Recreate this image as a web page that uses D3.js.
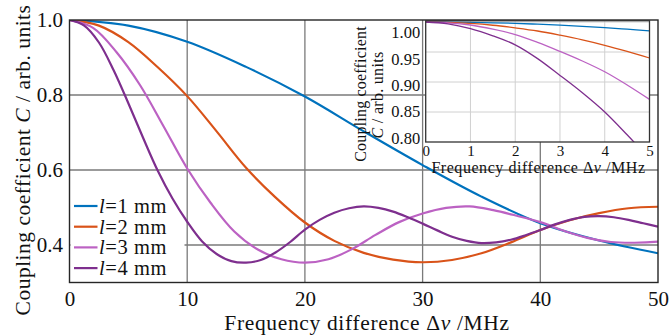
<!DOCTYPE html>
<html>
<head>
<meta charset="utf-8">
<script src="https://cdn.jsdelivr.net/npm/d3@7"></script>
<style>
  body { margin: 0; background: #fff; }
</style>
</head>
<body>
<svg id="chart" width="670" height="336" font-family="'Liberation Serif', 'DejaVu Serif', serif"></svg>
<script>
const FONT = "'Liberation Serif', 'DejaVu Serif', serif";

// series names (l = fibre length)
const seriesNames = ["1", "2", "3", "4"];
const colors = ["#0072bd", "#d95319", "#bc62c3", "#7e2f8e"];

// main plot, frequency difference (MHz) -> coupling coefficient
const x1 = [0, 5, 10, 15, 20, 25, 30, 35, 40, 45, 50];
const c1 = [1.000, 0.985, 0.942, 0.875, 0.796, 0.703, 0.613, 0.529, 0.458, 0.412, 0.378];

const x2 = [0, 2.5, 5, 7.5, 10, 12.5, 15, 17.5, 20, 22.5, 25, 27.5, 30, 32.5, 35, 37.5, 40, 42.5, 45, 47.5, 50];
const c2 = [1.000, 0.985, 0.941, 0.874, 0.797, 0.703, 0.606, 0.527, 0.460, 0.411, 0.379, 0.361, 0.354, 0.360, 0.378, 0.407, 0.440, 0.466, 0.485, 0.498, 0.502];

const x3 = [0, 2, 4, 6, 8, 10, 12, 14, 16, 18, 20, 22, 24, 26, 28, 30, 32, 34, 36, 38, 40, 42, 44, 46, 48, 50];
const c3 = [1.000, 0.979, 0.914, 0.826, 0.716, 0.604, 0.512, 0.436, 0.388, 0.362, 0.353, 0.362, 0.389, 0.427, 0.461, 0.484, 0.499, 0.503, 0.493, 0.478, 0.461, 0.438, 0.419, 0.408, 0.406, 0.409];

const x4 = [0, 1.25, 2.5, 3.75, 5, 6.25, 7.5, 8.75, 10, 11.25, 12.5, 13.75, 15, 16.25, 17.5, 18.75, 20,
            21.25, 22.5, 23.75, 25, 26.25, 27.5, 28.75, 30, 31.25, 32.5, 33.75, 35, 36.25, 37.5, 38.75, 40,
            41.25, 42.5, 43.75, 45, 46.25, 47.5, 48.75, 50];
const c4 = [1.000, 0.985, 0.940, 0.866, 0.778, 0.686, 0.598, 0.524, 0.462, 0.410, 0.376, 0.357, 0.353, 0.360, 0.380, 0.408, 0.441,
            0.467, 0.486, 0.498, 0.503, 0.499, 0.489, 0.474, 0.457, 0.439, 0.422, 0.411, 0.405, 0.407, 0.414, 0.426, 0.440,
            0.455, 0.467, 0.475, 0.477, 0.474, 0.467, 0.458, 0.449];

// inset, 0-5 MHz
const xIn = [0, 0.5, 1, 1.5, 2, 2.5, 3, 3.5, 4, 4.5, 5];
const in1 = [1.000, 0.9999, 0.9994, 0.9987, 0.9978, 0.9963, 0.9947, 0.9928, 0.9906, 0.9880, 0.9852];
const in2 = [1.000, 0.9994, 0.9976, 0.9946, 0.9902, 0.9850, 0.9780, 0.9702, 0.9612, 0.9510, 0.9400];
const in3 = [1.000, 0.9987, 0.9950, 0.9880, 0.9790, 0.9660, 0.9510, 0.9350, 0.9170, 0.8950, 0.8710];
const in4 = [1.000, 0.9970, 0.9890, 0.9770, 0.9620, 0.9390, 0.9110, 0.8820, 0.8500, 0.8120, 0.7720];

const xTicks = [0, 10, 20, 30, 40, 50];
const yTicks = [0.4, 0.6, 0.8, 1.0];
const inXTicks = [0, 1, 2, 3, 4, 5];
const inYTicks = [0.80, 0.85, 0.90, 0.95, 1.00];

const mainSeries = [[x1, c1], [x2, c2], [x3, c3], [x4, c4]];
const insetSeries = [in1, in2, in3, in4];

const svg = d3.select("#chart");

// main plot area
let margin = {left: 69.5, top: 20, right: 658, bottom: 282.5};

let x = d3.scaleLinear().domain([0, 50]).range([margin.left, margin.right]);
let y = d3.scaleLinear().domain([0.3, 1.0]).range([margin.bottom, margin.top]);

svg.append("defs").append("clipPath").attr("id", "clipMain")
    .append("rect")
    .attr("x", margin.left).attr("y", margin.top)
    .attr("width", margin.right - margin.left).attr("height", margin.bottom - margin.top);

// grid
let grid = svg.append("g");
grid.selectAll(".vg").data(xTicks.slice(1, -1)).enter().append("line")
    .attr("x1", d => x(d)).attr("x2", d => x(d))
    .attr("y1", margin.top).attr("y2", margin.bottom)
    .attr("stroke", "#7a7a7a").attr("stroke-width", 1.3);
grid.selectAll(".hg").data(yTicks.slice(0, -1)).enter().append("line")
    .attr("x1", margin.left).attr("x2", margin.right)
    .attr("y1", d => y(d)).attr("y2", d => y(d))
    .attr("stroke", "#7a7a7a").attr("stroke-width", 1.3);

// legend background (drawn under the curves)
let legend = svg.append("g");
legend.append("rect")
    .attr("x", margin.left + 1).attr("y", 192)
    .attr("width", 114).attr("height", 89)
    .attr("fill", "#fff");

// axes
let xAxis = svg.append("g")
    .attr("transform", "translate(0," + margin.bottom + ")")
    .call(d3.axisBottom(x).tickValues(xTicks).tickSize(0).tickPadding(8.6).tickFormat(d3.format("d")));
xAxis.attr("font-family", FONT).attr("font-size", 21);
xAxis.select(".domain").remove();
xAxis.selectAll("text").attr("fill", "#111");

let yAxis = svg.append("g")
    .attr("transform", "translate(" + margin.left + ",0)")
    .call(d3.axisLeft(y).tickValues(yTicks).tickSize(0).tickPadding(6.5).tickFormat(d3.format(".1f")));
yAxis.attr("font-family", FONT).attr("font-size", 21);
yAxis.select(".domain").remove();
yAxis.selectAll("text").attr("fill", "#111");

// curves
let line = d3.line().curve(d3.curveCatmullRom.alpha(0.5));
let curves = svg.append("g").attr("clip-path", "url(#clipMain)");
mainSeries.forEach((s, i) => {
    curves.append("path")
        .attr("d", line(s[0].map((v, j) => [x(v), y(s[1][j])])))
        .attr("fill", "none")
        .attr("stroke", colors[i])
        .attr("stroke-width", 2.2);
});

// frame
svg.append("rect")
    .attr("x", margin.left).attr("y", margin.top)
    .attr("width", margin.right - margin.left).attr("height", margin.bottom - margin.top)
    .attr("fill", "none").attr("stroke", "#262626").attr("stroke-width", 1.4);

// axis titles
let xt = svg.append("text")
    .attr("x", 367).attr("y", 330)
    .attr("font-family", FONT).attr("fill", "#111")
    .attr("letter-spacing", 0.65)
    .attr("text-anchor", "middle").attr("font-size", 21.5);
xt.append("tspan").text("Frequency difference \u0394");
xt.append("tspan").attr("font-style", "italic").text("v");
xt.append("tspan").text(" /MHz");

let yt = svg.append("text")
    .attr("transform", "translate(29.5,160) rotate(-90)")
    .attr("font-family", FONT).attr("fill", "#111")
    .attr("letter-spacing", 0.5)
    .attr("text-anchor", "middle").attr("font-size", 21.5);
yt.append("tspan").text("Coupling coefficient ");
yt.append("tspan").attr("font-style", "italic").text("C");
yt.append("tspan").text(" / arb. units");

// legend entries
seriesNames.forEach((n, i) => {
    let ly = 206 + i * 20.7;
    legend.append("line")
        .attr("x1", 74).attr("x2", 97.5).attr("y1", ly).attr("y2", ly)
        .attr("stroke", colors[i]).attr("stroke-width", 2.2);
    let t = legend.append("text")
        .attr("x", 99).attr("y", ly + 7)
        .attr("font-family", FONT).attr("fill", "#111")
        .attr("letter-spacing", 0.6).attr("font-size", 20.5);
    t.append("tspan").attr("font-style", "italic").text("l");
    t.append("tspan").text("=" + n + " mm");
});

// ---------- inset ----------
let ins = {left: 425.7, top: 20.7, right: 649.5, bottom: 142};
let xi = d3.scaleLinear().domain([0, 5]).range([ins.left, ins.right]);
let yi = d3.scaleLinear().domain([0.8, 1.0]).range([ins.bottom, 22]);
// tick labels in the picture sit on a slightly compressed scale
let yiLab = d3.scaleLinear().domain([0.8, 1.0]).range([138, 32.7]);

svg.select("defs").append("clipPath").attr("id", "clipInset")
    .append("rect")
    .attr("x", ins.left).attr("y", ins.top)
    .attr("width", ins.right - ins.left).attr("height", ins.bottom - ins.top);

let inset = svg.append("g");
inset.append("rect")
    .attr("x", ins.left).attr("y", ins.top)
    .attr("width", ins.right - ins.left).attr("height", ins.bottom - ins.top)
    .attr("fill", "#fff");

inset.selectAll(".ivg").data(inXTicks.slice(1, -1)).enter().append("line")
    .attr("x1", d => xi(d)).attr("x2", d => xi(d))
    .attr("y1", ins.top).attr("y2", ins.bottom)
    .attr("stroke", "#d0d0d0").attr("stroke-width", 1);
inset.selectAll(".ihg").data(inYTicks.slice(1)).enter().append("line")
    .attr("x1", ins.left).attr("x2", ins.right)
    .attr("y1", d => yi(d)).attr("y2", d => yi(d))
    .attr("stroke", "#d0d0d0").attr("stroke-width", 1);

let insetCurves = inset.append("g").attr("clip-path", "url(#clipInset)");
insetSeries.forEach((s, i) => {
    insetCurves.append("path")
        .attr("d", line(xIn.map((v, j) => [xi(v), yi(s[j])])))
        .attr("fill", "none")
        .attr("stroke", colors[i])
        .attr("stroke-width", 1.3);
});

inset.append("rect")
    .attr("x", ins.left).attr("y", ins.top)
    .attr("width", ins.right - ins.left).attr("height", ins.bottom - ins.top)
    .attr("fill", "none").attr("stroke", "#333").attr("stroke-width", 1.3);

let ixAxis = inset.append("g")
    .attr("transform", "translate(0," + ins.bottom + ")")
    .call(d3.axisBottom(xi).tickValues(inXTicks).tickSize(0).tickPadding(2.9).tickFormat(d3.format("d")));
ixAxis.attr("font-family", FONT).attr("font-size", 15);
ixAxis.select(".domain").remove();
ixAxis.selectAll("text").attr("fill", "#111");

let iyAxis = inset.append("g")
    .attr("transform", "translate(" + (ins.left - 5.5) + ",0)")
    .call(d3.axisLeft(yiLab).tickValues(inYTicks).tickSize(0).tickPadding(0).tickFormat(d3.format(".2f")));
iyAxis.attr("font-family", FONT).attr("font-size", 16.5);
iyAxis.select(".domain").remove();
iyAxis.selectAll("text").attr("fill", "#111");

let ixt = inset.append("text")
    .attr("x", 538.5).attr("y", 173)
    .attr("font-family", FONT).attr("fill", "#111")
    .attr("letter-spacing", 0.55)
    .attr("text-anchor", "middle").attr("font-size", 16);
ixt.append("tspan").text("Frequency difference \u0394");
ixt.append("tspan").attr("font-style", "italic").text("v");
ixt.append("tspan").text(" /MHz");

inset.append("text")
    .attr("transform", "translate(366,94) rotate(-90)")
    .attr("font-family", FONT).attr("fill", "#111")
    .attr("letter-spacing", 0.2)
    .attr("text-anchor", "middle").attr("font-size", 16)
    .text("Coupling coefficient");
let iyt = inset.append("text")
    .attr("transform", "translate(383,95) rotate(-90)")
    .attr("font-family", FONT).attr("fill", "#111")
    .attr("letter-spacing", 0.3)
    .attr("text-anchor", "middle").attr("font-size", 16);
iyt.append("tspan").attr("font-style", "italic").text("C");
iyt.append("tspan").text(" / arb. units");
</script>
</body>
</html>
